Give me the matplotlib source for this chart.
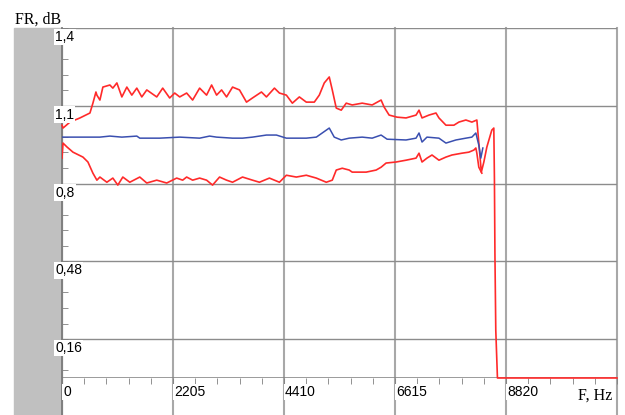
import matplotlib
matplotlib.use('Agg')
import matplotlib.pyplot as plt
from matplotlib.patches import Rectangle
from matplotlib.transforms import offset_copy

# Frequency axis (Hz) and y grid labels as printed on the chart
x_ticks = [0, 2205, 4410, 6615, 8820, 11025]
x_labels = ['0', '2205', '4410', '6615', '8820', '']
y_ticks = [1.4, 1.1, 0.8, 0.5, 0.2]
y_labels = ['1,4', '1,1', '0,8', '0,48', '0,16']

# Upper envelope (red)
upper_f = [0, 20, 158, 357, 555, 614, 674, 693, 753, 812, 951, 1010, 1090, 1189,
           1288, 1387, 1486, 1585, 1684, 1882, 2001, 2139, 2239, 2338, 2476, 2595,
           2734, 2872, 2972, 3071, 3170, 3269, 3388, 3526, 3665, 3784, 3962, 4061,
           4220, 4319, 4457, 4576, 4715, 4853, 5012, 5111, 5210, 5309, 5369, 5448,
           5547, 5646, 5765, 5963, 6161, 6339, 6399, 6498, 6656, 6834, 7033, 7092,
           7152, 7290, 7429, 7488, 7627, 7785, 7884, 8023, 8142, 8241, 8330, 8380,
           8440, 8538, 8578, 8590, 8600, 8617, 8650, 11025]
upper_v = [1.025, 1.014, 1.037, 1.053, 1.072, 1.110, 1.153, 1.141, 1.122, 1.172,
           1.180, 1.168, 1.188, 1.134, 1.172, 1.141, 1.168, 1.134, 1.161, 1.134,
           1.168, 1.130, 1.149, 1.134, 1.149, 1.122, 1.168, 1.141, 1.180, 1.141,
           1.161, 1.134, 1.172, 1.161, 1.114, 1.130, 1.153, 1.134, 1.168, 1.149,
           1.141, 1.110, 1.134, 1.114, 1.114, 1.141, 1.188, 1.211, 1.161, 1.091,
           1.083, 1.110, 1.103, 1.110, 1.103, 1.122, 1.095, 1.064, 1.056, 1.053,
           1.064, 1.083, 1.053, 1.064, 1.072, 1.053, 1.025, 1.025, 1.037, 1.045,
           1.037, 1.045, 0.844, 0.883, 0.941, 1.006, 1.014, 0.82, 0.53, 0.234,
           0.05, 0.05]

# Mean response (blue)
mean_f = [0, 753, 951, 1189, 1486, 1545, 1941, 2338, 2734, 2932, 3071, 3388, 3586,
          3784, 4061, 4259, 4457, 4655, 4853, 5052, 5170, 5309, 5408, 5547, 5705,
          5963, 6161, 6339, 6458, 6834, 7033, 7092, 7152, 7250, 7488, 7627, 7825,
          8023, 8142, 8221, 8280, 8320, 8360]
mean_v = [0.979, 0.979, 0.983, 0.979, 0.983, 0.975, 0.975, 0.979, 0.975, 0.983,
          0.979, 0.975, 0.975, 0.979, 0.987, 0.987, 0.975, 0.975, 0.975, 0.979,
          0.995, 1.014, 0.979, 0.968, 0.975, 0.979, 0.975, 0.987, 0.971, 0.968,
          0.975, 0.995, 0.960, 0.979, 0.975, 0.956, 0.968, 0.975, 0.979, 0.995,
          0.948, 0.898, 0.937]

# Lower envelope (red)
lower_f = [0, 20, 99, 218, 416, 515, 614, 693, 753, 891, 1010, 1109, 1208, 1347,
           1545, 1684, 1882, 2080, 2278, 2397, 2476, 2595, 2734, 2872, 2991, 3130,
           3269, 3388, 3586, 3784, 3922, 4120, 4319, 4457, 4655, 4853, 5052, 5250,
           5369, 5448, 5567, 5705, 5765, 6042, 6240, 6339, 6438, 6636, 6834, 7033,
           7092, 7152, 7250, 7350, 7488, 7627, 7746, 7944, 8082, 8181, 8221, 8241,
           8280, 8340]
lower_v = [0.898, 0.956, 0.941, 0.921, 0.902, 0.883, 0.840, 0.813, 0.825, 0.805,
           0.821, 0.794, 0.825, 0.805, 0.825, 0.802, 0.813, 0.802, 0.821, 0.813,
           0.825, 0.813, 0.821, 0.813, 0.794, 0.825, 0.813, 0.805, 0.825, 0.813,
           0.805, 0.821, 0.805, 0.832, 0.825, 0.832, 0.821, 0.805, 0.813, 0.852,
           0.859, 0.852, 0.844, 0.844, 0.852, 0.863, 0.879, 0.883, 0.890, 0.898,
           0.917, 0.883, 0.898, 0.910, 0.890, 0.902, 0.910, 0.917, 0.921, 0.929,
           0.937, 0.917, 0.863, 0.840]

fig = plt.figure(figsize=(6.25, 4.15), dpi=100)
ax = fig.add_axes([0.0992, 0.0892, 0.888, 0.8434])
ax.set_xlim(0, 11025)
ax.set_ylim(0.05, 1.4)
for s in ax.spines.values():
    s.set_visible(False)

below = -0.106
# gray strip on the left
ax.add_patch(Rectangle((-0.0865, below), 0.0865, 1 - below, transform=ax.transAxes,
                       color='#c0c0c0', clip_on=False, zorder=0))

# grid
for f in x_ticks[1:]:
    ax.axvline(f, ymin=below, ymax=1, color='#a8a8a8', lw=1.5, clip_on=False, zorder=1)
for v in y_ticks:
    ax.axhline(v, color='#8c8c8c', lw=1.0, zorder=1)
ax.axhline(0.05, color='#808080', lw=1.1, zorder=1)
ax.axvline(0, ymin=below, ymax=1, color='#7a7a7a', lw=1.3, clip_on=False, zorder=1)

# minor ticks
ax.set_xticks([i * 441 for i in range(26)], minor=True)
ax.set_yticks([round(1.4 - 0.06 * k, 2) for k in range(23)], minor=True)
ax.set_xticks([])
ax.set_yticks([])
ax.tick_params(axis='x', which='minor', direction='out', length=4, color='#808080')
ax.tick_params(axis='y', which='minor', direction='in', length=4, color='#808080')
ax.tick_params(labelbottom=False, labelleft=False, which='both')

ax.plot(upper_f, upper_v, color='#ff2a2a', lw=1.2, zorder=3, clip_on=False)
ax.plot(lower_f, lower_v, color='#ff2a2a', lw=1.2, zorder=3)
ax.plot(mean_f, mean_v, color='#3a4fb0', lw=1.1, zorder=4)

lab_font = dict(family='Liberation Sans', size=10)
box = dict(facecolor='white', edgecolor='none', pad=1.0)

ytr = offset_copy(ax.get_yaxis_transform(), fig=fig, x=-7, y=-2, units='dots')
for v, t in zip(y_ticks, y_labels):
    ax.text(0, v, t, transform=ytr, ha='left', va='top', bbox=box, zorder=5,
            clip_on=False, **lab_font)

xtr = offset_copy(ax.get_xaxis_transform(), fig=fig, x=1, y=-7, units='dots')
for f, t in zip(x_ticks, x_labels):
    if t:
        ax.text(f, 0, t, transform=xtr, ha='left', va='top', bbox=box, zorder=5,
                clip_on=False, **lab_font)

fig.text(15 / 625, 1 - 24 / 415, 'FR, dB', family='Liberation Serif', size=11.5,
         ha='left', va='baseline')
fig.text(612 / 625, 1 - 400 / 415, 'F, Hz', family='Liberation Serif', size=11.5,
         ha='right', va='baseline', bbox=dict(facecolor='white', edgecolor='none', pad=0.5))

fig.savefig('out.png', dpi=100)
